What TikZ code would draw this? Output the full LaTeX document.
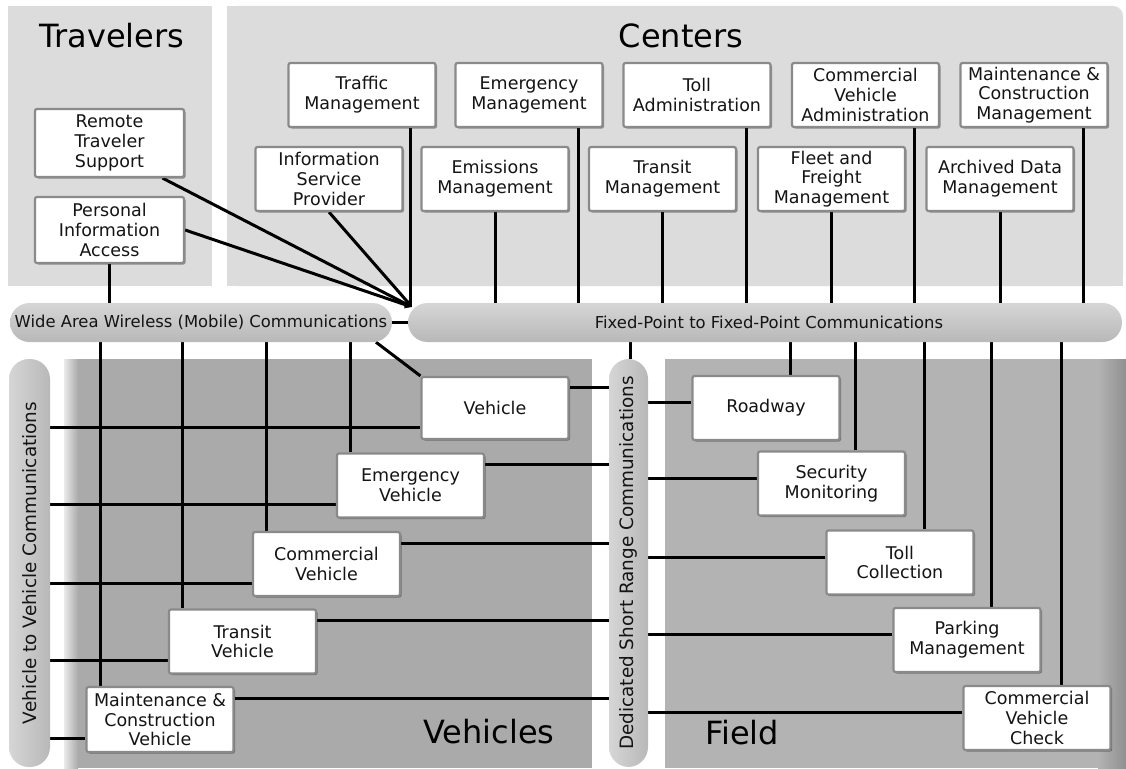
\documentclass[tikz,border=0pt]{standalone}
\usepackage{fontspec}
\setmainfont{DejaVu Sans}
\usetikzlibrary{shadows,arrows.meta}

\definecolor{panelLight}{HTML}{DCDCDC}
\definecolor{vehGray}{HTML}{AAAAAA}
\definecolor{fieldGray}{HTML}{B3B3B3}
\definecolor{pillTop}{HTML}{D6D6D6}
\definecolor{pillBot}{HTML}{B8B8B8}
\definecolor{boxEdge}{HTML}{8A8A8A}
\definecolor{inkGray}{HTML}{141414}

\pgfdeclarelayer{bg}
\pgfdeclarelayer{wires}
\pgfsetlayers{bg,wires,main}

\tikzset{
  unit/.style={draw=boxEdge, line width=2.2pt, fill=white, rounded corners=2pt,
    minimum width=147pt, minimum height=64pt, align=center, inner sep=2pt,
    text=inkGray, font=\fontsize{17.5}{19.8}\selectfont,
    drop shadow={shadow xshift=1.5pt, shadow yshift=-1.5pt, opacity=0.35, fill=black}},
  hpill/.style={rounded corners=19.5pt, top color=pillTop, bottom color=pillBot,
    minimum height=39pt, inner sep=0pt, text=inkGray, font=\fontsize{16.4}{18}\selectfont},
  vpill/.style={rounded corners=20pt, left color=pillTop, right color=pillBot,
    minimum width=40pt, minimum height=408pt, inner sep=0pt},
  vtext/.style={rotate=90, inner sep=0pt, text=inkGray, font=\fontsize{18.4}{20}\selectfont},
  title/.style={anchor=base, inner sep=0pt, text=black, font=\fontsize{32}{36}\selectfont},
  wire/.style={line width=3pt, black},
  hubtip/.style={-{Triangle[length=7pt,width=7pt]}},
}

\begin{document}
\begin{tikzpicture}[x=1pt,y=-1pt]
\useasboundingbox (0,0) rectangle (1126,768);

% ---------- panels ----------
\begin{pgfonlayer}{bg}
  \fill[white] (0,0) rectangle (1126,768);
  % Travelers
  \fill[panelLight] (8,6) rectangle (212,286);
  % Centers (rounded upper right)
  \fill[panelLight, rounded corners=10pt] (227,6) rectangle (1123,286);
  \fill[panelLight] (227,6) rectangle (1100,286);
  \fill[panelLight] (227,30) rectangle (1123,286);
  % Vehicles
  \fill[vehGray] (64,359) rectangle (592,768);
  \shade[left color=white!75!vehGray, right color=vehGray] (64,359) rectangle (78,768);
  % Field
  \fill[fieldGray] (665,359) rectangle (1126,768);
  \shade[left color=fieldGray, right color=fieldGray!80!black] (1098,359) rectangle (1126,768);
\end{pgfonlayer}

% ---------- titles ----------
\node[title] (travelersTitle) at (112,48) {Travelers};
\node[title] (centersTitle) at (681,48) {Centers};
\node[title] (vehiclesTitle) at (489,743) {Vehicles};
\node[title] (fieldTitle) at (742,744) {Field};

% ---------- communication buses ----------
\node[hpill, minimum width=382pt] (wide) at (201,322.5) {Wide Area Wireless (Mobile) Communications};
\node[hpill, minimum width=714pt] (fp) at (765,322.5) {\hspace{8pt}Fixed-Point to Fixed-Point Communications};
\node[vpill, minimum width=41pt] (v2v) at (29.5,563) {};
\node[vtext] (v2vLabel) at (v2v.center) {Vehicle to Vehicle Communications};
\node[vpill, minimum width=39pt] (dsrc) at (628.5,563) {};
\node[vtext] (dsrcLabel) at (dsrc.center) {Dedicated Short Range Communications};

% ---------- travelers ----------
\node[unit, minimum width=149pt, minimum height=68pt] (rts) at (109.5,143) {Remote\\Traveler\\Support};
\node[unit, minimum width=149pt, minimum height=66pt] (pia) at (109.5,230) {Personal\\Information\\Access};

% ---------- centers ----------
\node[unit] (tm)  at (362,95)    {Traffic\\Management};
\node[unit] (em)  at (529,95)    {Emergency\\Management};
\node[unit] (ta)  at (697,95)    {Toll\\Administration};
\node[unit] (cva) at (865.5,95)  {Commercial\\Vehicle\\Administration};
\node[unit] (mcm) at (1034,95)   {Maintenance \&\\Construction\\Management};
\node[unit] (isp) at (329,179)   {Information\\Service\\Provider};
\node[unit] (emi) at (495,179)   {Emissions\\Management};
\node[unit] (trm) at (662.5,179) {Transit\\Management};
\node[unit] (ffm) at (831.5,179) {Fleet and\\Freight\\Management};
\node[unit] (adm) at (1000,179)  {Archived Data\\Management};

% ---------- vehicles ----------
\node[unit, minimum height=62pt] (veh) at (495,408)    {Vehicle};
\node[unit] (ev)  at (410.5,485.5) {Emergency\\Vehicle};
\node[unit] (cv)  at (326.5,564)   {Commercial\\Vehicle};
\node[unit] (tv)  at (242.5,641.5) {Transit\\Vehicle};
\node[unit, minimum height=65pt] (mcv) at (160,719.5) {Maintenance \&\\Construction\\Vehicle};

% ---------- field ----------
\node[unit] (rd)  at (766,408)   {Roadway};
\node[unit] (sm)  at (831.5,483.5) {Security\\Monitoring};
\node[unit] (tc)  at (900,562.5) {Toll\\Collection};
\node[unit] (pm)  at (967,640)   {Parking\\Management};
\node[unit] (cvc) at (1037,718)  {Commercial\\Vehicle\\Check};

\coordinate (hub) at (412,307);

% ---------- connectors ----------
\begin{pgfonlayer}{wires}
  % centers to fixed-point bus
  \draw[wire] ([xshift=48pt]tm.south) -- ([xshift=48pt]tm.south |- hub);
  \foreach \n in {em,ta,cva,mcm}
    \draw[wire] ([xshift=49pt]\n.south) -- ([xshift=49pt]\n.south |- fp.north);
  \foreach \n in {emi,trm,ffm,adm}
    \draw[wire] (\n.south) -- (\n.south |- fp.north);
  % converging links
  \draw[wire, hubtip] ([xshift=53pt]rts.south) -- (hub);
  \draw[wire, hubtip] (pia.east) -- (hub);
  \draw[wire, hubtip] (isp.south) -- (hub);
  % travelers to wide area wireless
  \draw[wire] (pia.south) -- (pia.south |- wide.north);
  % bus to bus links
  \draw[wire] (wide.east) -- (fp.west);
  \draw[wire] ([xshift=2pt]dsrc.north) -- ([xshift=2pt]dsrc.north |- fp.south);
  % wide area wireless to vehicles
  \foreach \n in {ev,cv,tv,mcv}
    \draw[wire] ([xshift=-60pt]\n.north) -- ([xshift=-60pt]\n.north |- wide.south);
  \draw[wire] ([xshift=175pt]wide.south) -- (veh.north west);
  % vehicles to vehicle-to-vehicle and short range buses
  \foreach \n in {veh,ev,cv,tv,mcv} {
    \draw[wire] ([yshift=-19pt]\n.west) -- ([yshift=-19pt]\n.west -| v2v.east);
    \draw[wire] ([yshift=21pt]\n.east) -- ([yshift=21pt]\n.east -| dsrc.west);
  }
  % field to short range and fixed-point buses
  \foreach \n in {rd,sm,tc,pm,cvc} {
    \draw[wire] ([yshift=5.5pt]\n.west) -- ([yshift=5.5pt]\n.west -| dsrc.east);
    \draw[wire] ([xshift=24pt]\n.north) -- ([xshift=24pt]\n.north |- fp.south);
  }
\end{pgfonlayer}
\end{tikzpicture}
\end{document}
